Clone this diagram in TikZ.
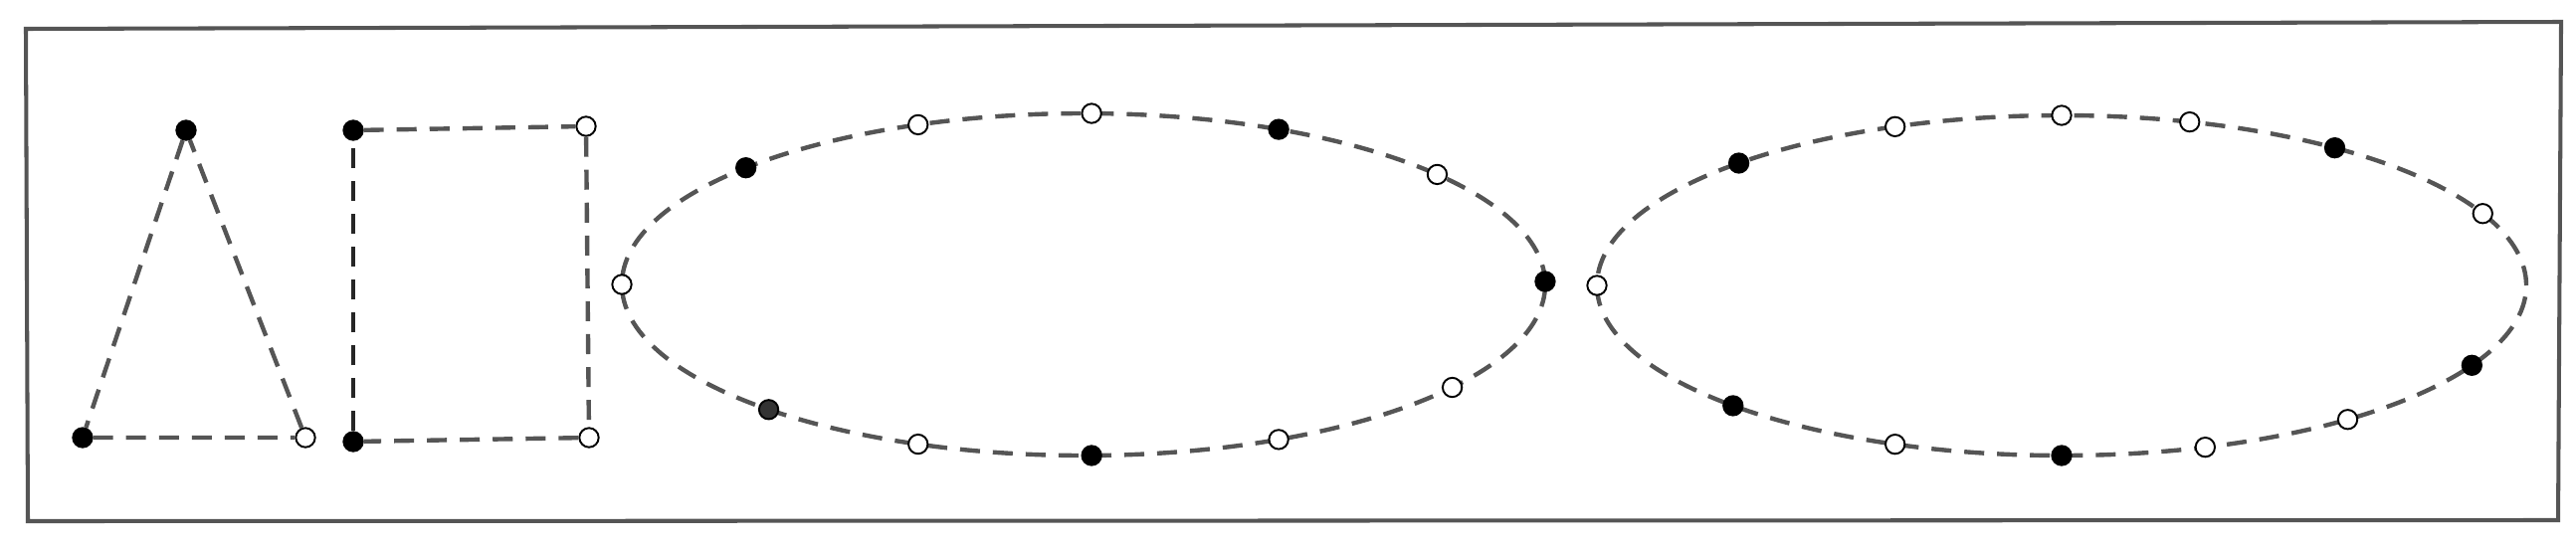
\documentclass[tikz,border=0pt]{standalone}
\definecolor{linegray}{HTML}{555555}
\tikzset{
  dot/.style={circle, draw=black, line width=0.55pt, minimum size=5.5pt, inner sep=0pt},
  full/.style={dot, fill=black},
  darkfull/.style={dot, fill=black!80},
  hollow/.style={dot, fill=white},
  edge/.style={linegray, line width=1.25pt, dash pattern=on 5.7pt off 3.7pt},
}
\begin{document}
\begin{tikzpicture}[x=0.01cm, y=0.01cm]
  \useasboundingbox (0,0) rectangle (2589,551);

  % Outer frame
  \draw[linegray, line width=1.15pt] (26,522) -- (2574,529) -- (2571,28) -- (28,27) -- cycle;

  % Triangle
  \node[full] (t1) at (187,420) {};
  \node[full] (t2) at (83,111) {};
  \node[hollow] (t3) at (307,111) {};
  \draw[edge] (t1) -- (t2) -- (t3) -- (t1);

  % Rectangle (left side darker)
  \node[full] (r1) at (355,420) {};
  \node[hollow] (r2) at (589,424) {};
  \node[hollow] (r3) at (592,111) {};
  \node[full] (r4) at (355,107) {};
  \draw[edge] (r1) -- (r2) -- (r3) -- (r4);
  \draw[edge, draw=black!85] (r4) -- (r1);

  % First ellipse
  \coordinate (ea) at (1089,265);
  \draw[edge] (ea) ellipse [x radius=464, y radius=172];
  \foreach \a/\s [count=\i] in {180/hollow, 137/full, 111/hollow, 89/hollow, 65/full, 40/hollow,
      1/full, -37/hollow, -65/hollow, -89/full, -111/hollow, -133/darkfull}
    \node[\s] (a\i) at ([shift={(\a:464 and 172)}]ea) {};

  % Second ellipse
  \coordinate (eb) at (2072,264);
  \draw[edge] (eb) ellipse [x radius=467, y radius=171];
  \foreach \a/\s [count=\i] in {180/hollow, 134/full, 111/hollow, 90/hollow, 74/hollow, 54/full,
      25/hollow, -28/full, -52/hollow, -72/hollow, -90/full, -111/hollow, -135/full}
    \node[\s] (b\i) at ([shift={(\a:467 and 171)}]eb) {};
\end{tikzpicture}
\end{document}
